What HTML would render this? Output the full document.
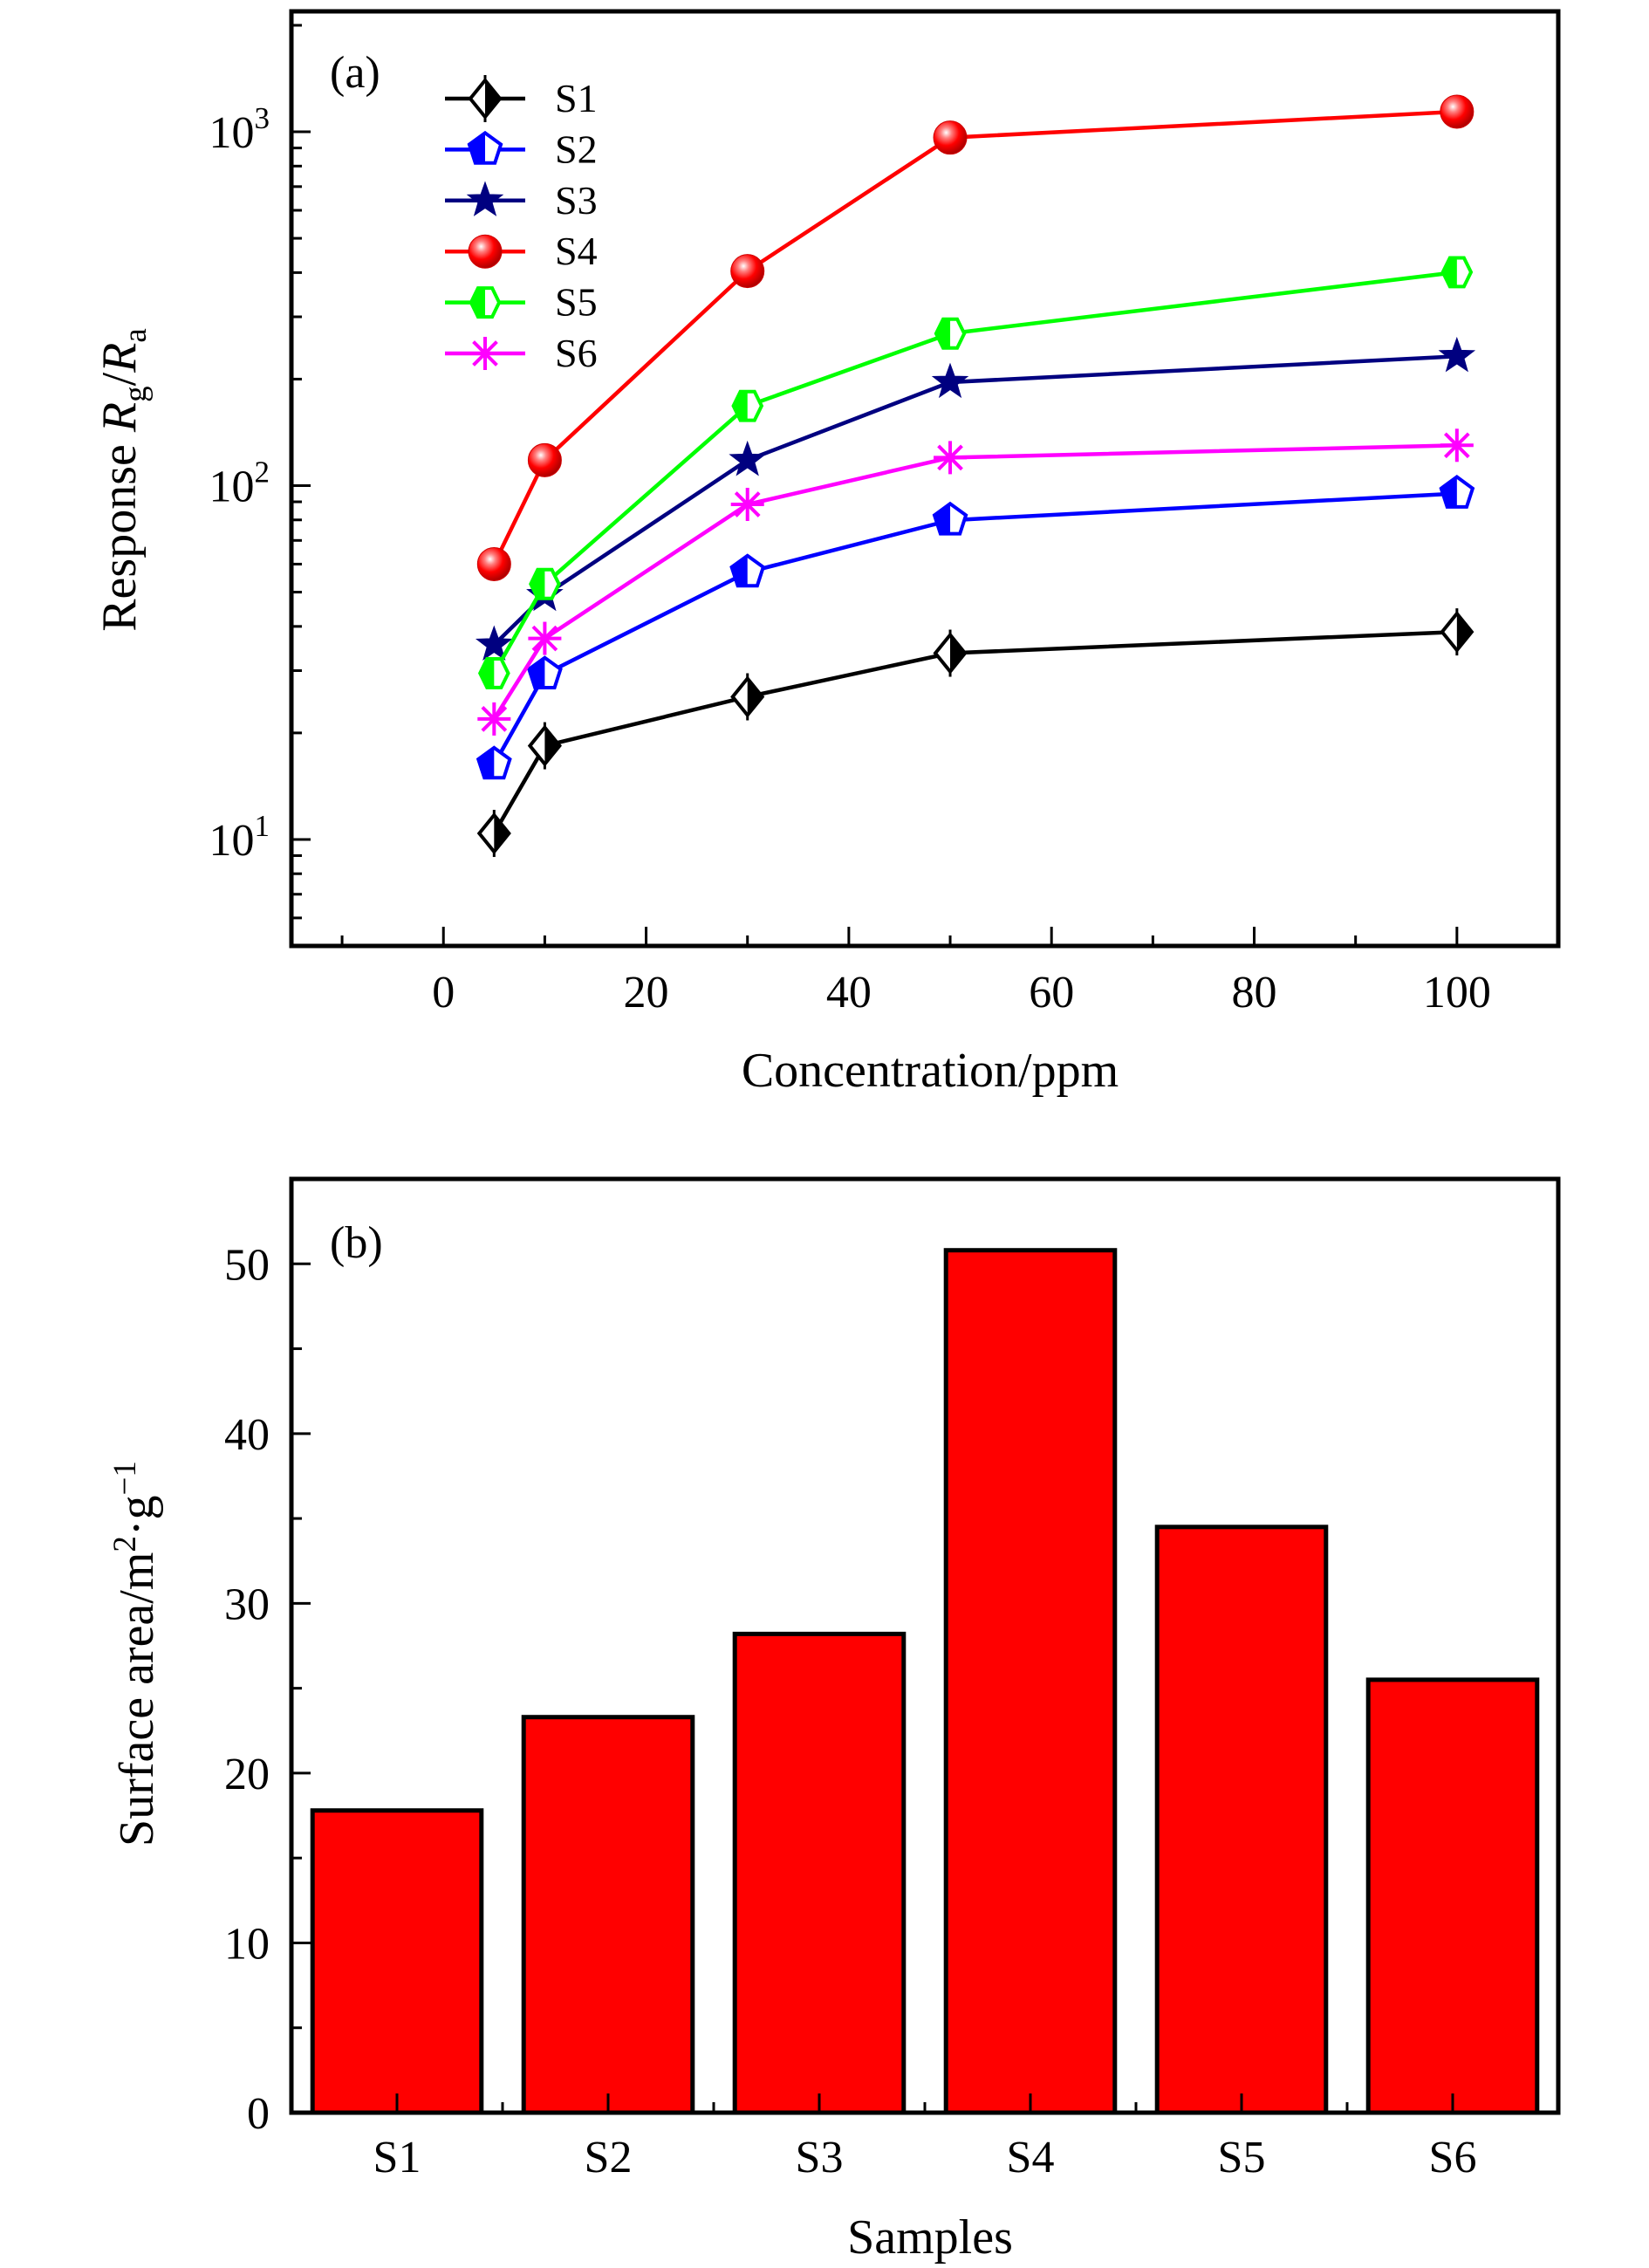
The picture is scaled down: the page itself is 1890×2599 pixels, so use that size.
<!DOCTYPE html>
<html><head><meta charset="utf-8"><style>
html,body{margin:0;padding:0;background:#fff}
svg{display:block}
text{font-family:"Liberation Serif",serif;fill:#000}
</style></head><body>
<svg id="c" width="1890" height="2599" viewBox="0 0 1890 2599" xmlns="http://www.w3.org/2000/svg">
<defs>
<radialGradient id="ball" cx="0.38" cy="0.35" r="0.65"><stop offset="0" stop-color="#fff"/><stop offset="0.25" stop-color="#ff8080"/><stop offset="0.6" stop-color="#ff0000"/><stop offset="1" stop-color="#b00000"/></radialGradient>
</defs>
<g id="pa"></g>
<g id="pb"></g>
</svg>
<script>
const concentrations=[5,10,30,50,100];
const seriesNames=["S1","S2","S3","S4","S5","S6"];
const s1=[10.4,18.4,25.3,33.6,38.6];
const s2=[16.3,29.3,56.9,79.8,95];
const s3=[35.5,49,118,196,232];
const s4=[60,118,404,963,1140];
const s5=[29.5,52.7,168,269,401];
const s6=[21.9,37,88.5,120,130];
const xTicksA=[0,20,40,60,80,100];
const yDecadesA=[1,2,3];
const sampleLabels=["S1","S2","S3","S4","S5","S6"];
const surfaceArea=[17.8,23.3,28.2,50.8,34.5,25.5];
const yTicksB=[0,10,20,30,40,50];

const NS="http://www.w3.org/2000/svg";
function mk(parent,tag,attrs,txt){const e=document.createElementNS(NS,tag);for(const k in attrs)e.setAttribute(k,attrs[k]);if(txt!==undefined)e.textContent=txt;parent.appendChild(e);return e;}

// Panel A
const pa=document.getElementById('pa');
const A={l:334,r:1786,t:13,b:1084};
const xA=v=>A.l+(v+15)/(110+15)*(A.r-A.l);
const lmin=Math.log10(5.0),lmax=Math.log10(2190);
const yA=v=>A.b-(Math.log10(v)-lmin)/(lmax-lmin)*(A.b-A.t);
const axA=mk(pa,'g',{});


for(let v=-10;v<=110;v+=10){const x=xA(v);const major=v%20===0;
 mk(axA,'line',{x1:x,x2:x,y1:A.b,y2:A.b-(major?22:12),stroke:'#000','stroke-width':3});}
xTicksA.forEach(v=>{const t=mk(axA,'text',{x:xA(v),y:A.b+70,'font-size':52,'text-anchor':'middle'},String(v));
 });
for(let d=0;d<=3;d++){for(let m=1;m<=9;m++){const v=m*Math.pow(10,d);if(v<5||v>2190)continue;const y=yA(v);
 mk(axA,'line',{x1:A.l,x2:A.l+(m===1?22:12),y1:y,y2:y,stroke:'#000','stroke-width':3});}}
yDecadesA.forEach(d=>{const y=yA(Math.pow(10,d));const t=mk(axA,'text',{x:A.l-25,y:y+18,'font-size':52,'text-anchor':'end'});
 
 mk(t,'tspan',{},'10');mk(t,'tspan',{dy:-22,'font-size':35},String(d));});
let tt=mk(axA,'text',{x:1066,y:1245,'font-size':56,'text-anchor':'middle'},'Concentration/ppm');

tt=mk(axA,'text',{transform:'translate(155,550) rotate(-90)','font-size':56,'text-anchor':'middle'});

mk(tt,'tspan',{},'Response ');mk(tt,'tspan',{'font-style':'italic'},'R');mk(tt,'tspan',{dy:12,'font-size':37},'g');
mk(tt,'tspan',{dy:-12},'/');mk(tt,'tspan',{'font-style':'italic'},'R');mk(tt,'tspan',{dy:12,'font-size':37},'a');
tt=mk(axA,'text',{x:378,y:100,'font-size':52},'(a)');

const colors=["#000000","#0000ff","#000080","#ff0000","#00ff00","#ff00ff"];
const allSeries=[s1,s2,s3,s4,s5,s6];
let clipId=0;
function halfClip(g,x,y,r,side){clipId++;const defs=document.querySelector('defs');const cp=mk(defs,'clipPath',{id:'hc'+clipId});
 if(side==='right')mk(cp,'rect',{x:x,y:y-r-5,width:r+5,height:2*r+10});else mk(cp,'rect',{x:x-r-5,y:y-r-5,width:r+5,height:2*r+10});return 'url(#hc'+clipId+')';}
function marker(g,i,x,y){const c=colors[i];const r=19;
 if(i===0){const p=`${x},${y-r-2} ${x+r-2},${y} ${x},${y+r+2} ${x-r+2},${y}`;
  mk(g,'line',{x1:x,x2:x,y1:y-r-8,y2:y+r+8,stroke:c,'stroke-width':3});
  mk(g,'polygon',{points:p,fill:'#fff',stroke:c,'stroke-width':4});
  mk(g,'polygon',{points:p,fill:c,'clip-path':halfClip(g,x,y,r,'right')});}
 else if(i===1){let pts=[];for(let k=0;k<5;k++){const a=-Math.PI/2+k*2*Math.PI/5;pts.push((x+r*Math.cos(a)).toFixed(1)+','+(y+r*Math.sin(a)).toFixed(1));}
  mk(g,'polygon',{points:pts.join(' '),fill:'#fff',stroke:c,'stroke-width':4});
  mk(g,'polygon',{points:pts.join(' '),fill:c,'clip-path':halfClip(g,x,y,r,'left')});}
 else if(i===2){let pts=[];for(let k=0;k<10;k++){const a=-Math.PI/2+k*Math.PI/5;const rr=k%2?r*0.45:r*1.1;pts.push((x+rr*Math.cos(a)).toFixed(1)+','+(y+rr*Math.sin(a)).toFixed(1));}
  mk(g,'polygon',{points:pts.join(' '),fill:c,stroke:c,'stroke-width':1});}
 else if(i===3){mk(g,'circle',{cx:x,cy:y,r:r,fill:'url(#ball)',stroke:'#d00000','stroke-width':1});}
 else if(i===4){let pts=[];for(let k=0;k<6;k++){const a=k*Math.PI/3;pts.push((x+r*0.85*Math.cos(a)).toFixed(1)+','+(y+r*Math.sin(a)).toFixed(1));}
  mk(g,'polygon',{points:pts.join(' '),fill:'#fff',stroke:c,'stroke-width':4});
  mk(g,'polygon',{points:pts.join(' '),fill:c,'clip-path':halfClip(g,x,y,r,'left')});}
 else {for(let k=0;k<4;k++){const a=k*Math.PI/4;mk(g,'line',{x1:x-r*Math.cos(a),y1:y-r*Math.sin(a),x2:x+r*Math.cos(a),y2:y+r*Math.sin(a),stroke:c,'stroke-width':4});}}
}
allSeries.forEach((arr,i)=>{const g=mk(pa,'g',{});
 
 
 const pts=arr.map((v,j)=>xA(concentrations[j]).toFixed(1)+','+yA(v).toFixed(1)).join(' ');
 mk(g,'polyline',{points:pts,fill:'none',stroke:colors[i],'stroke-width':4.5});
 arr.forEach((v,j)=>marker(g,i,xA(concentrations[j]),yA(v)));});
// legend
const lg=mk(pa,'g',{});


seriesNames.forEach((n,i)=>{const y=113+i*58.4;const e=mk(lg,'g',{});
 
 
 mk(e,'line',{x1:510,x2:602,y1:y,y2:y,stroke:colors[i],'stroke-width':4.5});
 marker(e,i,556,y);
 mk(e,'text',{x:636,y:y+15,'font-size':46},n);});
mk(pa,'rect',{x:A.l,y:A.t,width:A.r-A.l,height:A.b-A.t,fill:'none',stroke:'#000','stroke-width':5});

// Panel B
const pb=document.getElementById('pb');
const B={l:334,r:1786,t:1351,b:2421};
const xB=v=>B.l+(v-0.5)/6*(B.r-B.l);
const yB=v=>B.b-v/55*(B.b-B.t);
surfaceArea.forEach((v,i)=>{const x0=xB(i+1-0.4),x1=xB(i+1+0.4);
 const r=mk(pb,'rect',{x:x0,y:yB(v),width:x1-x0,height:B.b-yB(v),fill:'#ff0000',stroke:'#000','stroke-width':5});
 
 });
const axB=mk(pb,'g',{});


for(let v=0;v<=55;v+=5){const y=yB(v);mk(axB,'line',{x1:B.l,x2:B.l+(v%10===0?22:12),y1:y,y2:y,stroke:'#000','stroke-width':3});}
yTicksB.forEach(v=>{const t=mk(axB,'text',{x:B.l-25,y:yB(v)+18,'font-size':52,'text-anchor':'end'},String(v));
 });
sampleLabels.forEach((s,i)=>{const x=xB(i+1);mk(axB,'line',{x1:x,x2:x,y1:B.b,y2:B.b-22,stroke:'#000','stroke-width':3});
 if(i>0)mk(axB,'line',{x1:xB(i+0.5),x2:xB(i+0.5),y1:B.b,y2:B.b-12,stroke:'#000','stroke-width':3});
 const t=mk(axB,'text',{x:x,y:B.b+68,'font-size':52,'text-anchor':'middle'},s);
 });
tt=mk(axB,'text',{x:1066,y:2582,'font-size':56,'text-anchor':'middle'},'Samples');

tt=mk(axB,'text',{transform:'translate(175,1895) rotate(-90)','font-size':56,'text-anchor':'middle'});

mk(tt,'tspan',{},'Surface area/m');mk(tt,'tspan',{dy:-20,'font-size':37},'2');mk(tt,'tspan',{dy:20},'·g');mk(tt,'tspan',{dy:-20,'font-size':37},'−1');
tt=mk(axB,'text',{x:378,y:1441,'font-size':52},'(b)');
mk(pb,'rect',{x:B.l,y:B.t,width:B.r-B.l,height:B.b-B.t,fill:'none',stroke:'#000','stroke-width':5});
</script>
</body></html>
